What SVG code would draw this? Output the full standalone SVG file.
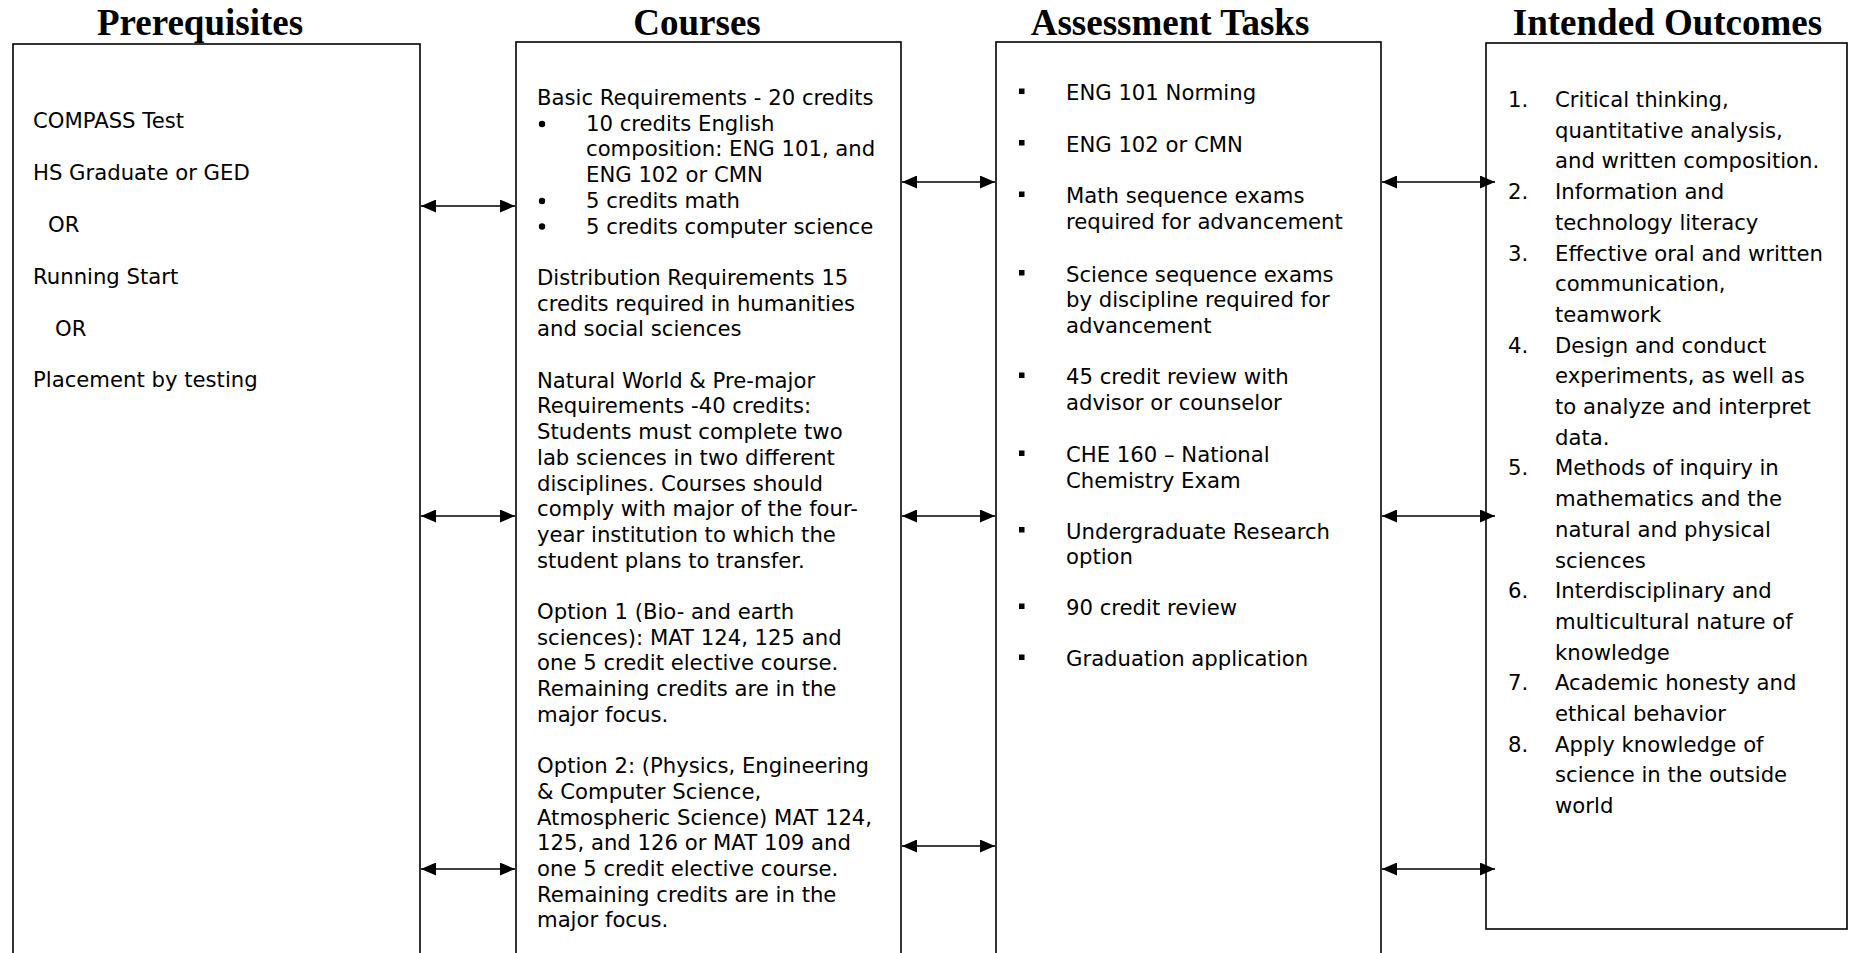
<svg xmlns="http://www.w3.org/2000/svg" width="1850" height="953" viewBox="0 0 1850 953">
<style>
  .title { font-family: "Liberation Serif", "Times New Roman", serif; font-weight: bold; font-size: 37px; fill: #000; text-anchor: middle; }
  .body { font-family: "DejaVu Sans", Verdana, sans-serif; font-size: 21.2px; fill: #000; }
  .box { fill: #fff; stroke: #000; stroke-width: 1.6; }
  .conn { stroke: #000; stroke-width: 1.6; fill: none; marker-start: url(#ah); marker-end: url(#ah); }
</style>
<defs>
  <marker id="ah" viewBox="0 0 15 13" refX="15" refY="6.5" markerWidth="15" markerHeight="13" markerUnits="userSpaceOnUse" orient="auto-start-reverse">
    <path d="M0,0 L15,6.5 L0,13 z" fill="#000"/>
  </marker>
</defs>
<rect width="1850" height="953" fill="#fff"/>

<g id="prerequisites">
  <text class="title" x="200" y="34.5">Prerequisites</text>
  <rect class="box" x="13" y="44" width="407" height="930"/>
  <text class="body" x="33" y="128">COMPASS Test</text>
  <text class="body" x="33" y="180">HS Graduate or GED</text>
  <text class="body" x="48" y="232">OR</text>
  <text class="body" x="33" y="284">Running Start</text>
  <text class="body" x="55" y="336">OR</text>
  <text class="body" x="33" y="387">Placement by testing</text>
</g>

<g id="courses">
  <text class="title" x="697" y="35">Courses</text>
  <rect class="box" x="516" y="42" width="385" height="930"/>
  <g fill="#000">
    <circle cx="542" cy="124" r="3.2"/>
    <circle cx="542" cy="201" r="3.2"/>
    <circle cx="542" cy="226.5" r="3.2"/>
  </g>
  <text class="body" x="537" y="105">Basic Requirements - 20 credits</text>
  <text class="body" x="586" y="130.7">10 credits English</text>
  <text class="body" x="586" y="156.4">composition: ENG 101, and</text>
  <text class="body" x="586" y="182.1">ENG 102 or CMN</text>
  <text class="body" x="586" y="207.8">5 credits math</text>
  <text class="body" x="586" y="233.5">5 credits computer science</text>
  <text class="body" x="537" y="284.9">Distribution Requirements 15</text>
  <text class="body" x="537" y="310.6">credits required in humanities</text>
  <text class="body" x="537" y="336.3">and social sciences</text>
  <text class="body" x="537" y="387.7">Natural World &amp; Pre-major</text>
  <text class="body" x="537" y="413.4">Requirements -40 credits:</text>
  <text class="body" x="537" y="439.1">Students must complete two</text>
  <text class="body" x="537" y="464.8">lab sciences in two different</text>
  <text class="body" x="537" y="490.5">disciplines. Courses should</text>
  <text class="body" x="537" y="516.2">comply with major of the four-</text>
  <text class="body" x="537" y="541.9">year institution to which the</text>
  <text class="body" x="537" y="567.6">student plans to transfer.</text>
  <text class="body" x="537" y="619">Option 1 (Bio- and earth</text>
  <text class="body" x="537" y="644.7">sciences): MAT 124, 125 and</text>
  <text class="body" x="537" y="670.4">one 5 credit elective course.</text>
  <text class="body" x="537" y="696.1">Remaining credits are in the</text>
  <text class="body" x="537" y="721.8">major focus.</text>
  <text class="body" x="537" y="773.2">Option 2: (Physics, Engineering</text>
  <text class="body" x="537" y="798.9">&amp; Computer Science,</text>
  <text class="body" x="537" y="824.6">Atmospheric Science) MAT 124,</text>
  <text class="body" x="537" y="850.3">125, and 126 or MAT 109 and</text>
  <text class="body" x="537" y="876">one 5 credit elective course.</text>
  <text class="body" x="537" y="901.7">Remaining credits are in the</text>
  <text class="body" x="537" y="927.4">major focus.</text>
</g>

<g id="assessment-tasks">
  <text class="title" x="1170" y="34.5">Assessment Tasks</text>
  <rect class="box" x="996" y="42" width="385" height="930"/>
  <g fill="#000">
    <rect x="1019" y="88.5" width="5.5" height="5.5"/>
    <rect x="1019" y="140" width="5.5" height="5.5"/>
    <rect x="1019" y="191.5" width="5.5" height="5.5"/>
    <rect x="1019" y="270" width="5.5" height="5.5"/>
    <rect x="1019" y="372.5" width="5.5" height="5.5"/>
    <rect x="1019" y="450.5" width="5.5" height="5.5"/>
    <rect x="1019" y="527" width="5.5" height="5.5"/>
    <rect x="1019" y="603.5" width="5.5" height="5.5"/>
    <rect x="1019" y="654.5" width="5.5" height="5.5"/>
  </g>
  <text class="body" x="1066" y="100">ENG 101 Norming</text>
  <text class="body" x="1066" y="151.5">ENG 102 or CMN</text>
  <text class="body" x="1066" y="203">Math sequence exams</text>
  <text class="body" x="1066" y="228.7">required for advancement</text>
  <text class="body" x="1066" y="281.5">Science sequence exams</text>
  <text class="body" x="1066" y="307.2">by discipline required for</text>
  <text class="body" x="1066" y="332.9">advancement</text>
  <text class="body" x="1066" y="384">45 credit review with</text>
  <text class="body" x="1066" y="409.7">advisor or counselor</text>
  <text class="body" x="1066" y="462">CHE 160 – National</text>
  <text class="body" x="1066" y="487.7">Chemistry Exam</text>
  <text class="body" x="1066" y="538.5">Undergraduate Research</text>
  <text class="body" x="1066" y="564.2">option</text>
  <text class="body" x="1066" y="615">90 credit review</text>
  <text class="body" x="1066" y="666">Graduation application</text>
</g>

<g id="intended-outcomes">
  <text class="title" x="1667.5" y="34.5">Intended Outcomes</text>
  <rect class="box" x="1486" y="43" width="361" height="886"/>
  <text class="body" x="1508" y="107">1.</text>
  <text class="body" x="1555" y="107">Critical thinking,</text>
  <text class="body" x="1555" y="137.7">quantitative analysis,</text>
  <text class="body" x="1555" y="168.4">and written composition.</text>
  <text class="body" x="1508" y="199.1">2.</text>
  <text class="body" x="1555" y="199.1">Information and</text>
  <text class="body" x="1555" y="229.8">technology literacy</text>
  <text class="body" x="1508" y="260.5">3.</text>
  <text class="body" x="1555" y="260.5">Effective oral and written</text>
  <text class="body" x="1555" y="291.2">communication,</text>
  <text class="body" x="1555" y="321.9">teamwork</text>
  <text class="body" x="1508" y="352.6">4.</text>
  <text class="body" x="1555" y="352.6">Design and conduct</text>
  <text class="body" x="1555" y="383.3">experiments, as well as</text>
  <text class="body" x="1555" y="414">to analyze and interpret</text>
  <text class="body" x="1555" y="444.7">data.</text>
  <text class="body" x="1508" y="475.4">5.</text>
  <text class="body" x="1555" y="475.4">Methods of inquiry in</text>
  <text class="body" x="1555" y="506.1">mathematics and the</text>
  <text class="body" x="1555" y="536.8">natural and physical</text>
  <text class="body" x="1555" y="567.5">sciences</text>
  <text class="body" x="1508" y="598.2">6.</text>
  <text class="body" x="1555" y="598.2">Interdisciplinary and</text>
  <text class="body" x="1555" y="628.9">multicultural nature of</text>
  <text class="body" x="1555" y="659.6">knowledge</text>
  <text class="body" x="1508" y="690.3">7.</text>
  <text class="body" x="1555" y="690.3">Academic honesty and</text>
  <text class="body" x="1555" y="721">ethical behavior</text>
  <text class="body" x="1508" y="751.7">8.</text>
  <text class="body" x="1555" y="751.7">Apply knowledge of</text>
  <text class="body" x="1555" y="782.4">science in the outside</text>
  <text class="body" x="1555" y="813.1">world</text>
</g>

<g id="connectors">
  <line class="conn" x1="421" y1="206" x2="515" y2="206"/>
  <line class="conn" x1="421" y1="516" x2="515" y2="516"/>
  <line class="conn" x1="421" y1="869" x2="515" y2="869"/>
  <line class="conn" x1="902" y1="182" x2="995" y2="182"/>
  <line class="conn" x1="902" y1="516" x2="995" y2="516"/>
  <line class="conn" x1="902" y1="846" x2="995" y2="846"/>
  <line class="conn" x1="1382" y1="182" x2="1495" y2="182"/>
  <line class="conn" x1="1382" y1="516" x2="1495" y2="516"/>
  <line class="conn" x1="1382" y1="869" x2="1495" y2="869"/>
</g>
</svg>
